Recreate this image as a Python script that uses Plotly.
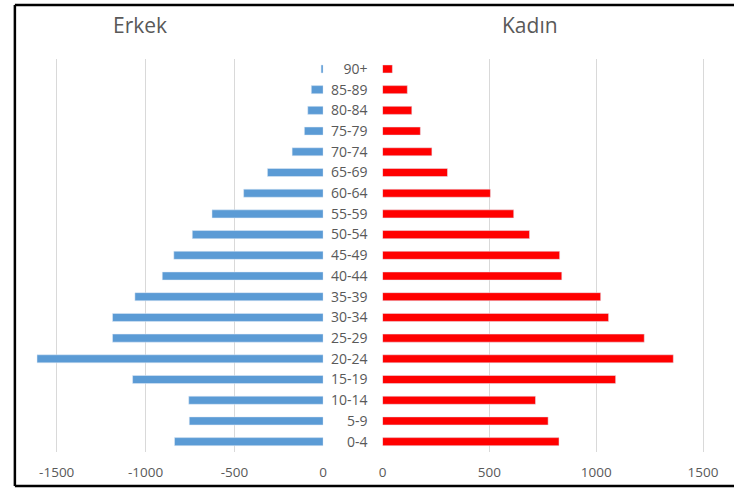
import plotly.graph_objects as go

age_groups = ["0-4", "5-9", "10-14", "15-19", "20-24", "25-29", "30-34", "35-39",
              "40-44", "45-49", "50-54", "55-59", "60-64", "65-69", "70-74",
              "75-79", "80-84", "85-89", "90+"]
erkek = [-837, -754, -757, -1073, -1611, -1186, -1186, -1060, -906, -841,
         -737, -626, -448, -314, -175, -106, -87, -67, -12]
kadin = [826, 775, 716, 1091, 1361, 1225, 1058, 1021, 839, 829,
         688, 614, 505, 304, 231, 177, 137, 116, 46]
x_ticks_left = [-1500, -1000, -500, 0]
x_ticklabels_left = ["-1500", "-1000", "-500", "0"]
x_ticks_right = [0, 500, 1000, 1500]

W, H = 738, 488
font_family = "Open Sans, Liberation Sans, sans-serif"
gray_txt = "#595959"
grid = "#d9d9d9"

fig = go.Figure()
fig.add_trace(go.Bar(y=age_groups, x=erkek, orientation="h", marker_color="#5B9BD5",
                     xaxis="x", yaxis="y", showlegend=False))
fig.add_trace(go.Bar(y=age_groups, x=kadin, orientation="h", marker_color="#FF0000",
                     xaxis="x2", yaxis="y2", showlegend=False))

y_dom = [1 - 452 / H, 1 - 58.6 / H]
left_dom = [13.8 / W, 322.7 / W]
right_dom = [382.7 / W, 732.6 / W]

fig.update_layout(
    width=W, height=H,
    margin=dict(l=0, r=0, t=0, b=0),
    paper_bgcolor="white", plot_bgcolor="white",
    bargap=0.61,
    font=dict(family=font_family, color=gray_txt, size=13),
    xaxis=dict(domain=left_dom, range=[-1720, 0], tickvals=x_ticks_left,
               ticktext=x_ticklabels_left,
               showgrid=True, gridcolor=grid, gridwidth=1, zeroline=False,
               showline=False, ticks="", ticklabelstandoff=10,
               tickfont=dict(size=13.5, color=gray_txt)),
    yaxis=dict(domain=y_dom, anchor="x", type="category", categoryorder="array",
               categoryarray=age_groups, range=[-0.5, 18.5], showticklabels=False,
               showgrid=False, zeroline=False, showline=False),
    xaxis2=dict(domain=right_dom, range=[0, 1620], tickvals=x_ticks_right, anchor="y2",
                showgrid=True, gridcolor=grid, gridwidth=1, zeroline=False,
                showline=False, ticks="", ticklabelstandoff=10,
                tickfont=dict(size=13.5, color=gray_txt)),
    yaxis2=dict(domain=y_dom, anchor="x2", type="category", categoryorder="array",
                categoryarray=age_groups, range=[-0.5, 18.5], showticklabels=True,
                ticks="", ticklabelstandoff=14, showgrid=False, zeroline=False,
                showline=False, tickfont=dict(size=14, color=gray_txt)),
    annotations=[
        dict(text="Erkek", x=137 / W, y=1 - 25 / H, xref="paper", yref="paper",
             showarrow=False, font=dict(size=21, color=gray_txt), xanchor="center", yanchor="middle"),
        dict(text="Kadın", x=532 / W, y=1 - 25 / H, xref="paper", yref="paper",
             showarrow=False, font=dict(size=21, color=gray_txt), xanchor="center", yanchor="middle"),
    ],
    shapes=[
        dict(type="line", xref="paper", yref="paper", x0=11 / W, x1=1, y0=1 - 5 / H, y1=1 - 5 / H,
             line=dict(color="black", width=2.5)),
        dict(type="line", xref="paper", yref="paper", x0=11 / W, x1=11 / W, y0=1 - 5 / H, y1=1 - 486 / H,
             line=dict(color="black", width=2.5)),
        dict(type="line", xref="paper", yref="paper", x0=11 / W, x1=1, y0=1 - 486 / H, y1=1 - 486 / H,
             line=dict(color="black", width=2.5)),
    ],
)

fig.write_html("out.html", config={"displayModeBar": False},
               post_script="document.body.style.margin='0';document.body.style.overflow='hidden';")
